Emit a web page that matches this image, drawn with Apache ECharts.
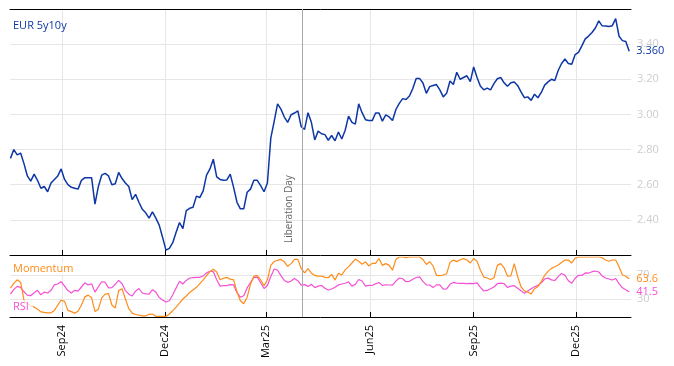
<!DOCTYPE html>
<html>
<head>
<meta charset="utf-8">
<script src="https://cdn.jsdelivr.net/npm/echarts@6/dist/echarts.min.js"></script>
<style>html,body{margin:0;padding:0;background:#fff}#c{width:674px;height:366px}</style>
</head>
<body>
<div id="c"></div>
<script>
// ---------------- data ----------------
const startDate = '2024-07-17';
const stepDays = 3;
const seriesNames = ['EUR 5y10y', 'Momentum', 'RSI'];
const eurValues = [
2.75,2.80,2.77,2.78,2.72,2.65,2.62,2.66,2.625,2.58,2.59,2.56,2.61,2.63,2.65,2.69,2.63,2.60,2.585,2.58,2.575,2.625,2.64,2.64,2.64,2.49,2.59,2.655,2.665,2.65,2.60,2.605,2.67,2.635,2.61,2.59,2.515,2.545,2.50,2.46,2.44,2.41,2.445,2.41,2.37,2.30,2.228,
2.238,2.27,2.33,2.385,2.35,2.453,2.466,2.472,2.535,2.527,2.565,2.655,2.69,2.745,2.645,2.63,2.625,2.627,2.66,2.585,2.50,2.463,2.463,2.557,2.575,2.625,2.625,2.595,2.56,2.61,2.865,2.96,3.06,3.03,2.985,2.955,2.998,3.008,3.02,2.93,2.915,3.01,2.955,2.855,2.905,2.89,
2.885,2.853,2.88,2.85,2.90,2.86,2.91,2.99,2.955,2.945,3.06,3.01,2.97,2.965,2.965,3.008,3.008,2.962,2.998,2.986,2.965,3.028,3.063,3.09,3.085,3.105,3.147,3.205,3.205,3.179,3.12,3.158,3.165,3.17,3.14,3.10,3.12,3.19,3.17,3.24,3.20,3.21,3.22,3.187,3.27,3.21,
3.16,3.14,3.15,3.14,3.175,3.203,3.21,3.18,3.16,3.18,3.185,3.165,3.128,3.095,3.10,3.08,3.115,3.095,3.125,3.167,3.185,3.20,3.193,3.25,3.29,3.315,3.29,3.286,3.34,3.353,3.39,3.43,3.446,3.466,3.492,3.532,3.504,3.503,3.50,3.505,3.545,3.445,3.42,3.415,3.36
];
const momentumValues = [
48,56,62,58,28,22,19,16.5,13,8.5,7.7,7,7,11,20,28,26,11,9,6.5,9.5,20,33.5,36.5,32,9,13,32,38,39,20,15,44,47,30,14,6.5,4.2,3,2,1.8,4.5,5,1.2,1,1,1,
5,10.5,16.5,23,30,35,41,45,49.5,55.5,62,69,75.5,79.5,75,62,64.5,66,63,62,42,27,22,33,54.5,68,69,62,52,62,86,92.5,94.5,96,92,84.5,89,96,96,80.5,73.5,80.5,73,69.3,68,68.3,
66,65.5,71,61.5,73,70,78.5,84,90,96.5,92.8,88,92,85,89.4,89.5,97.5,86,89,86,78,96,100,100,99,100,100,100,100,96,87.5,92.1,85,69.5,68.8,69.9,72,91,94.8,92.3,95.5,97.2,95,90,97.5,93,
78,66.5,65,62.5,65,86,89,82,68,68.5,89,67.5,50.5,43.5,41.7,38.5,47,50.5,59,69.5,76,81,83.7,86.7,91,94.8,95,90,98,100,100,100,100,100,100,100,98.8,95,93,95,95,83.8,70,68,63.6
];
const rsiValues = [
38,46,51,49.5,42,36.5,35.5,40.5,44.5,37,41.5,40,44.5,53.5,55,59,51.5,44,40,44.5,43,50,57,53.3,55.5,41.5,50.5,58.8,58,48.5,49,54.5,61,55.5,44,38,35,43,47.5,40,38.5,38,45.5,41.5,32.5,28.5,25,
27,37,48.5,59.5,55,61,65,65.5,66,66.2,68.5,73.5,76.3,75.5,62,51.5,52.5,52.3,54,53.5,40.5,33,35.5,48.5,57.5,66,66.5,57,47.5,52.5,67.5,80,78,69,61,57.8,60,64,60.5,53,54,51,54.5,49,51.5,52.5,
47.8,45,46.6,49.5,53.5,55,56.3,58.5,51.5,54.5,62.5,60,51.5,52.8,52.5,55.3,57.5,52.7,53.7,53.3,53,59.8,65,63.8,58.8,59.5,63,65.8,67,59.5,53.5,53.3,49,53.5,53.5,46.6,47,54.5,57.6,56.5,56.2,56,55.5,56.2,55.5,57,
49.5,43.3,44.3,47.2,50,55.5,56.5,55.5,49.2,51.5,52.2,48,43.8,39.4,43.3,47,50.5,52.7,57,63.3,64.8,61.9,60.8,67.2,72.6,69.5,60.5,56.2,64.5,69.6,69.3,73.5,73,75.5,76.6,75,68.5,65,63.3,61.6,64.3,55.5,48.6,45.5,41.5
];
const tickDates = ['2024-09-01','2024-12-01','2025-03-01','2025-06-01','2025-09-01','2025-12-01'];
const eventDate = '2025-04-02';
const eventName = 'Liberation Day';
const oscTickValues = [30, 70];

// ---------------- chart ----------------
// x axis in days since startDate (value axis), labels converted back to dates
const DAY = 86400000;
const t0 = Date.parse(startDate + 'T00:00:00Z');
const dayOf = d => Math.round((Date.parse(d + 'T00:00:00Z') - t0) / DAY);
const pair = arr => arr.map((v, i) => [i * stepDays, v]);
const xMin = -0.4, xMax = 550.6;
const tickDays = tickDates.map(dayOf);
const eventDay = dayOf(eventDate);
const MON = ['Jan','Feb','Mar','Apr','May','Jun','Jul','Aug','Sep','Oct','Nov','Dec'];
const fmtMonth = v => { const d = new Date(t0 + Math.round(v) * DAY); return MON[d.getUTCMonth()] + String(d.getUTCFullYear()).slice(2); };

const BLUE = '#0d37a6', ORANGE = '#ff8c1a', PINK = '#f550d6';
const GRIDC = '#e6e6e6', YLAB = '#cdcdcd';

const xBase = (gi, showLabels) => ({
  type: 'value', gridIndex: gi, min: xMin, max: xMax, position: 'bottom',
  axisLine: { show: true, onZero: false, lineStyle: { color: '#000', width: 1 } },
  axisTick: { show: true, inside: true, length: 5, lineStyle: { color: '#000' }, customValues: tickDays },
  axisLabel: { show: showLabels, customValues: tickDays, rotate: 90, margin: 8, color: '#000', fontSize: 11, formatter: v => fmtMonth(v) },
  splitLine: { show: true, lineStyle: { color: GRIDC, width: 1 } },
  axisPointer: { show: false }
});

const chart = echarts.init(document.getElementById('c'));
chart.setOption({
  animation: false,
  backgroundColor: '#fff',
  textStyle: { fontFamily: 'Open Sans' },
  title: [
    { text: seriesNames[0], left: 11, top: 19, padding: [0, 2], textStyle: { color: BLUE, fontSize: 11, fontWeight: 'normal', lineHeight: 13 } },
    { text: seriesNames[1], left: 11, top: 262, padding: [0, 2], backgroundColor: 'rgba(255,255,255,0.75)', textStyle: { color: ORANGE, fontSize: 11, fontWeight: 'normal', lineHeight: 13 } },
    { text: seriesNames[2], left: 11, top: 300, padding: [0, 4, 0, 2], backgroundColor: 'rgba(255,255,255,0.75)', textStyle: { color: PINK, fontSize: 11, fontWeight: 'normal', lineHeight: 13 } }
  ],
  grid: [
    { left: 10, right: 43, top: 9, height: 246 },
    { left: 10, right: 43, top: 257, height: 60 }
  ],
  xAxis: [
    xBase(0, false),
    xBase(1, true),
    { type: 'value', gridIndex: 0, position: 'top', min: 0, max: 1,
      axisLine: { show: true, lineStyle: { color: '#000', width: 1 } },
      axisTick: { show: false }, axisLabel: { show: false }, splitLine: { show: false } }
  ],
  yAxis: [
    { type: 'value', gridIndex: 0, position: 'right', min: 2.2, max: 3.6, interval: 0.2,
      axisLine: { show: false }, axisTick: { show: false },
      axisLabel: { color: YLAB, fontSize: 11, margin: 6, showMinLabel: false, showMaxLabel: false, formatter: v => v.toFixed(2) },
      splitLine: { show: true, lineStyle: { color: GRIDC, width: 1 } } },
    { type: 'value', gridIndex: 1, position: 'right', min: 0, max: 100,
      axisLine: { show: false }, axisTick: { show: false, customValues: oscTickValues },
      axisLabel: { color: YLAB, fontSize: 11, margin: 6, customValues: oscTickValues },
      splitLine: { show: true, lineStyle: { color: GRIDC, width: 1 } } }
  ],
  series: [
    { type: 'line', name: seriesNames[0], xAxisIndex: 0, yAxisIndex: 0, data: pair(eurValues),
      showSymbol: false, symbol: 'none', lineStyle: { color: BLUE, width: 1.5 }, itemStyle: { color: BLUE }, z: 3,
      endLabel: { show: true, formatter: p => p.value[1].toFixed(3), color: BLUE, fontSize: 11, distance: 7 },
      markLine: { silent: true, symbol: ['none', 'none'], animation: false,
        lineStyle: { color: '#a8a8a8', type: 'solid', width: 1 },
        label: { show: true, formatter: eventName, position: 'insideStartTop', color: '#666', fontSize: 10, distance: [12, 8] },
        data: [{ xAxis: eventDay }] } },
    { type: 'line', name: seriesNames[2], xAxisIndex: 1, yAxisIndex: 1, data: pair(rsiValues),
      showSymbol: false, symbol: 'none', lineStyle: { color: PINK, width: 1.2 }, itemStyle: { color: PINK }, z: 2,
      endLabel: { show: true, formatter: p => p.value[1].toFixed(1), color: PINK, fontSize: 11, distance: 7 },
      markLine: { silent: true, symbol: ['none', 'none'], animation: false,
        lineStyle: { color: '#a8a8a8', type: 'solid', width: 1 },
        label: { show: false }, data: [{ xAxis: eventDay }] } },
    { type: 'line', name: seriesNames[1], xAxisIndex: 1, yAxisIndex: 1, data: pair(momentumValues),
      showSymbol: false, symbol: 'none', lineStyle: { color: ORANGE, width: 1.2 }, itemStyle: { color: ORANGE }, z: 3,
      endLabel: { show: true, formatter: p => p.value[1].toFixed(1), color: ORANGE, fontSize: 11, distance: 7 } }
  ]
});
</script>
</body>
</html>
